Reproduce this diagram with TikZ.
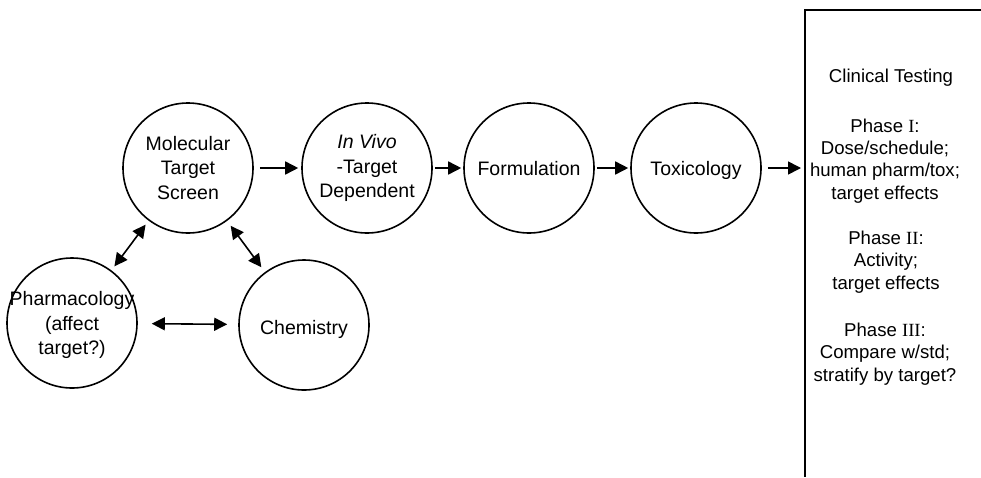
\documentclass[tikz,border=0pt]{standalone}
\usepackage{fontspec}
\setmainfont{Liberation Sans}
\newfontfamily\romfont{Liberation Serif}
\usetikzlibrary{arrows.meta}
\begin{document}
\begin{tikzpicture}[x=1pt,y=-1pt,
  stage/.style={circle, draw, line width=1.6pt, minimum size=130pt, inner sep=0pt},
  ctxt/.style={align=center, font=\fontsize{19.5}{24.5}\selectfont},
  stxt/.style={anchor=base, font=\fontsize{19.5}{24.5}\selectfont},
  btxt/.style={align=center, font=\fontsize{18.6}{22.2}\selectfont},
  tip/.style={Triangle[length=13pt,width=13pt]},
  arr/.style={line width=1.6pt, -{Triangle[length=13pt,width=13pt]}},
  darr/.style={line width=1.6pt, {Triangle[length=13pt,width=13pt]}-{Triangle[length=13pt,width=13pt]}},
  boxline/.style={line width=1.6pt}]
\useasboundingbox (0,0) rectangle (981,477);
% circles
\node[stage] (mts) at (188,168) {};
\node[stage] (viv) at (367,168) {};
\node[stage] (frm) at (529,168) {};
\node[stage] (tox) at (696,168) {};
\node[stage] (pha) at (72,323) {};
\node[stage] (che) at (304,325) {};
% circle texts
\node[ctxt] at (mts) {Molecular\\Target\\Screen};
\node[ctxt] at (viv) {\textit{In Vivo}\\-Target\\Dependent};
\node[stxt] at ([yshift=-7pt]frm.center) {Formulation};
\node[stxt] at ([yshift=-7pt]tox.center) {Toxicology};
\node[ctxt] at ([yshift=-2pt]pha.center) {Pharmacology\\(affect\\target?)};
\node[stxt] at ([yshift=-9pt]che.center) {Chemistry};
% clinical testing box
\draw[boxline] (981,10) -- (805,10) -- (805,477);
\coordinate (clin) at (805,168);
\node[btxt] (ct) at (891,78) {Clinical Testing};
\node[btxt] (p1) at (885,161) {Phase {\romfont I}:\\Dose/schedule;\\human pharm/tox;\\target effects};
\node[btxt] (p2) at (886,262) {Phase {\romfont II}:\\Activity;\\target effects};
\node[btxt] (p3) at (885,354) {Phase {\romfont III}:\\Compare w/std;\\stratify by target?};
% connectors
\draw[arr, shorten <=6pt, shorten >=3pt] (mts) -- (viv);
\draw[arr, shorten <=2pt, shorten >=2pt] (viv) -- (frm);
\draw[arr, shorten <=2pt, shorten >=2pt] (frm) -- (tox);
\draw[arr, shorten <=6pt, shorten >=4pt] (tox) -- (clin);
\draw[darr, shorten <=5pt, shorten >=5pt] (mts) -- (pha);
\draw[darr, shorten <=6pt, shorten >=6pt] (mts) -- (che);
\draw[darr, shorten <=14pt, shorten >=11pt] (pha) -- (che);
\end{tikzpicture}
\end{document}
